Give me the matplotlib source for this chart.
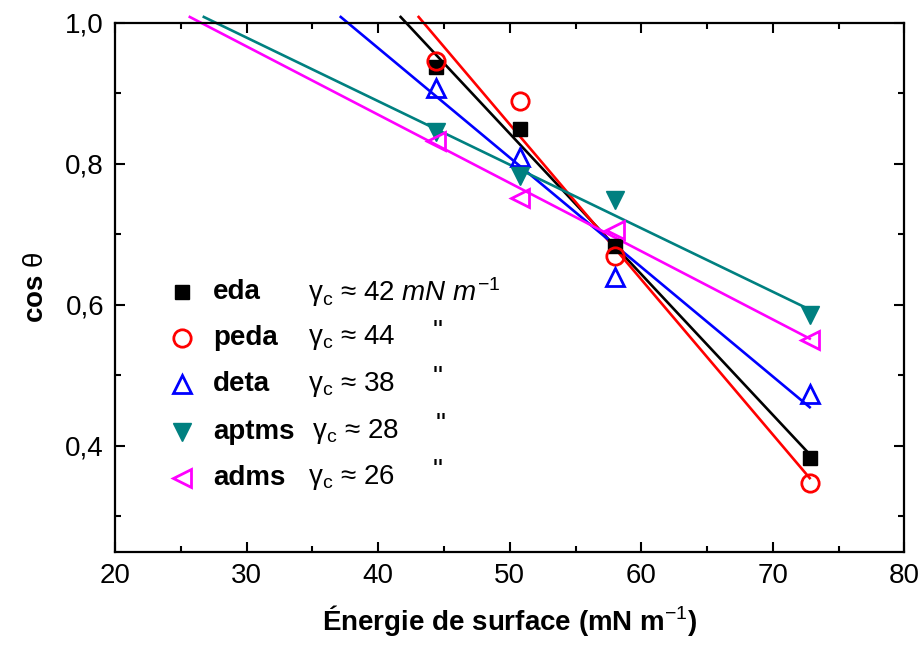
import numpy as np
import matplotlib
matplotlib.use("Agg")
import matplotlib.pyplot as plt
from matplotlib.ticker import MultipleLocator, FuncFormatter

plt.rcParams['font.family'] = ['Liberation Sans', 'DejaVu Sans']
plt.rcParams['mathtext.fontset'] = 'custom'
plt.rcParams['mathtext.rm'] = 'Liberation Sans'
plt.rcParams['mathtext.it'] = 'Liberation Sans:italic'
plt.rcParams['mathtext.bf'] = 'Liberation Sans:bold'

# surface energy of the test liquids (mN/m)
energy = [44.4, 50.8, 58.0, 72.8]

names = ['eda', 'peda', 'deta', 'aptms', 'adms']
gamma_c = ['42', '44', '38', '28', '26']
eda = [0.937, 0.849, 0.683, 0.383]
peda = [0.945, 0.889, 0.669, 0.348]
deta = [0.908, 0.810, 0.640, 0.473]
aptms = [0.845, 0.782, 0.748, 0.585]
adms = [0.832, 0.751, 0.706, 0.550]
series = [eda, peda, deta, aptms, adms]

colors = ['black', '#FF0000', '#0000FF', '#008080', '#FF00FF']
markers = ['s', 'o', '^', 'v', '<']
filled = [True, False, False, True, False]


def msize(m):
    return 10.5 if m == 's' else 12.5


fig = plt.figure(figsize=(9.21, 6.46), dpi=100)
ax = fig.add_axes([0.125, 0.146, 0.857, 0.819])

xe = np.array(energy)
for ys, c, m, f in zip(series, colors, markers, filled):
    ys = np.array(ys)
    ax.plot(xe, ys, linestyle='none', marker=m, markersize=msize(m),
            markerfacecolor=c if f else 'none', markeredgecolor=c,
            markeredgewidth=2.0 if not f else 1.0, zorder=3)
    # linear fit (Zisman line), extrapolated up to cos = 1
    a, b = np.polyfit(xe, ys, 1)
    x0 = (1.008 - b) / a
    xl = np.array([x0, 72.8])
    ax.plot(xl, a * xl + b, color=c, lw=1.9, clip_on=False, zorder=2)

ax.set_xlim(20, 80)
ax.set_ylim(0.25, 1.0)
ax.xaxis.set_major_locator(MultipleLocator(10))
ax.xaxis.set_minor_locator(MultipleLocator(5))
ax.yaxis.set_major_locator(MultipleLocator(0.2))
ax.yaxis.set_minor_locator(MultipleLocator(0.1))
ax.yaxis.set_major_formatter(FuncFormatter(lambda v, p: f"{v:.1f}".replace('.', ',')))
ax.tick_params(which='both', direction='in', top=True, right=True, width=1.5,
               labelsize=20)
ax.tick_params(which='major', length=7.5, pad=8)
ax.tick_params(which='minor', length=4)
for s in ax.spines.values():
    s.set_linewidth(1.6)

ax.set_xlabel('Énergie de surface (mN m$^{-1}$)', fontsize=20, fontweight='bold', labelpad=10)
ax.set_ylabel(r'cos $\mathrm{\theta}$', fontsize=20, fontweight='bold', labelpad=12)

# hand-made legend
row_y = [0.491, 0.404, 0.316, 0.227, 0.140]
for i, (n, g, c, m, f) in enumerate(zip(names, gamma_c, colors, markers, filled)):
    y = row_y[i]
    ax.plot([0.085], [y], transform=ax.transAxes, linestyle='none', marker=m,
            markersize=msize(m),
            markerfacecolor=c if f else 'none', markeredgecolor=c,
            markeredgewidth=2.0 if not f else 1.0, clip_on=False)
    ax.text(0.124, y, n, transform=ax.transAxes, fontsize=20, fontweight='bold',
            va='center', ha='left')
    gx = 0.244 if n != 'aptms' else 0.249
    if i == 0:
        lab = r'$\mathrm{\gamma_c}$ ≈ ' + g + r' $mN\ m^{-1}$'
    else:
        lab = r'$\mathrm{\gamma_c}$ ≈ ' + g
    ax.text(gx, y, lab, transform=ax.transAxes, fontsize=20, va='center', ha='left')
    if i > 0:
        ax.text(0.408 if n != 'aptms' else 0.412, y + 0.012, '"', transform=ax.transAxes,
                fontsize=20, va='center', ha='center')

fig.savefig('out.png', dpi=100)
